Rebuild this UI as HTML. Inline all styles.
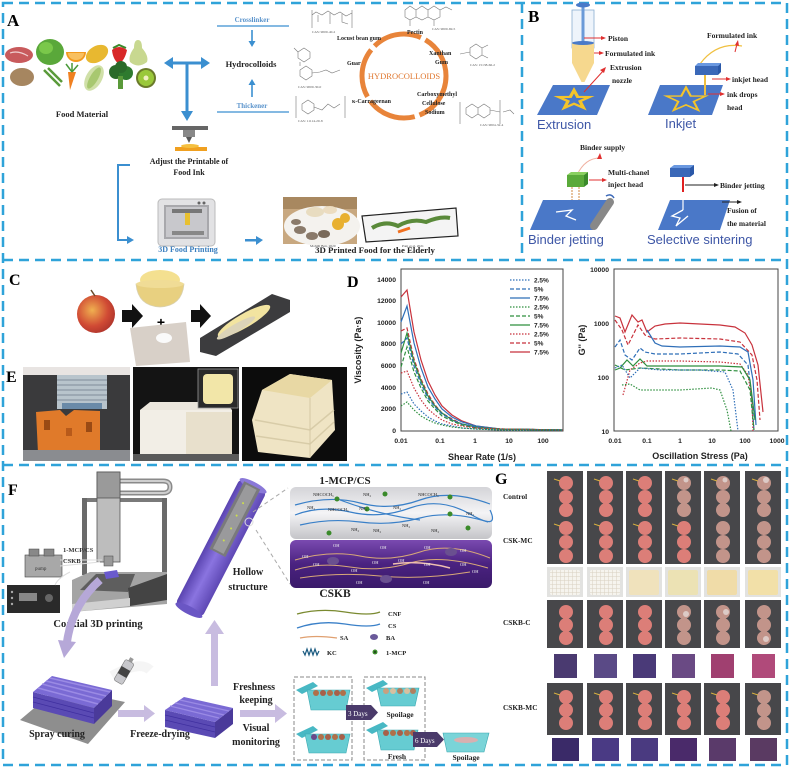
<!DOCTYPE html>
<html><head><meta charset="utf-8"><style>
html,body{margin:0;padding:0;background:#fff;}
svg{display:block;}
.s{font-family:"Liberation Serif",serif;font-weight:bold;}
.n{font-family:"Liberation Serif",serif;}
.a{font-family:"Liberation Sans",sans-serif;font-weight:bold;}
.b{font-family:"Liberation Sans",sans-serif;}
</style></head><body>
<svg width="791" height="768" viewBox="0 0 791 768" xmlns="http://www.w3.org/2000/svg">
<defs>
<linearGradient id="gl" x1="0" y1="0" x2="0" y2="1"><stop offset="0" stop-color="#d4d4d8"/><stop offset="0.5" stop-color="#f4f4f6"/><stop offset="1" stop-color="#c4c4c8"/></linearGradient>
<linearGradient id="pl" x1="0" y1="0" x2="0" y2="1"><stop offset="0" stop-color="#7a4ab0"/><stop offset="0.5" stop-color="#4a2280"/><stop offset="1" stop-color="#3a1a6a"/></linearGradient>
<linearGradient id="cy" x1="0" y1="0" x2="1" y2="0"><stop offset="0" stop-color="#5a44b0"/><stop offset="0.45" stop-color="#8a74e0"/><stop offset="1" stop-color="#5e48b4"/></linearGradient>
<radialGradient id="ap" cx="0.4" cy="0.4" r="0.7"><stop offset="0" stop-color="#f0b050"/><stop offset="0.6" stop-color="#d04a34"/><stop offset="1" stop-color="#a8302a"/></radialGradient>
<path id="star" d="M0,-18 L4.1,-5.7 L17.1,-5.6 L6.7,2.2 L10.6,14.6 L0,7 L-10.6,14.6 L-6.7,2.2 L-17.1,-5.6 L-4.1,-5.7 Z"/>
<pattern id="grd" width="4" height="4" patternUnits="userSpaceOnUse"><rect width="4" height="4" fill="#f6f4ee"/><path d="M0,0 H4 M0,0 V4" stroke="#d8d0c0" stroke-width="1"/></pattern>
</defs>

<!-- dashed borders -->
<g fill="none" stroke="#2fa3d9" stroke-width="2.5" stroke-dasharray="10,6">
<path d="M3,3 H787 V765 H3 Z"/>
<path d="M3,260 H787"/>
<path d="M3,465 H787"/>
<path d="M522,3 V260"/>
</g>

<!-- ================= PANEL A ================= -->
<text x="7" y="26" class="s" font-size="17">A</text>
<ellipse cx="19" cy="55" rx="14" ry="8" fill="#c85a5c"/>
<path d="M10,53 Q18,50 28,56" stroke="#f0d0d0" stroke-width="1.2" fill="none"/>
<ellipse cx="50" cy="52" rx="14" ry="13" fill="#5aa83a"/>
<ellipse cx="46" cy="48" rx="7" ry="6" fill="#7ac84a"/>
<path d="M66,52 A10,10 0 0 0 86,52 Z" fill="#f29a1e"/>
<path d="M68,53 A8,7 0 0 0 84,53 Z" fill="#f8c060"/>
<ellipse cx="97" cy="54" rx="12" ry="8" fill="#e8b830" transform="rotate(-30 97 54)"/>
<path d="M112,50 Q119,44 127,50 Q125,60 119,64 Q113,60 112,50Z" fill="#d82828"/>
<path d="M113,48 L119,45 L126,48" stroke="#3a8a2a" stroke-width="2" fill="none"/>
<path d="M138,40 Q142,40 142,48 Q149,56 147,62 Q138,69 130,62 Q128,56 134,48 Q134,40 138,40Z" fill="#c8d890"/>
<ellipse cx="22" cy="77" rx="12" ry="9" fill="#a68660"/>
<path d="M44,70 Q52,78 60,86 M48,68 Q56,76 62,82" stroke="#5a9a3a" stroke-width="2.5" fill="none"/>
<path d="M68,72 L76,72 L70,90 Z" fill="#f08020"/>
<path d="M72,72 L66,64 M72,72 L78,65 M72,72 L72,63" stroke="#4a9a3a" stroke-width="1.5"/>
<ellipse cx="94" cy="78" rx="8" ry="14" fill="#d0e0a8" transform="rotate(30 94 78)"/>
<ellipse cx="94" cy="78" rx="4" ry="12" fill="#a8c870" transform="rotate(30 94 78)"/>
<circle cx="116" cy="72" r="7" fill="#2a6a2a"/><circle cx="126" cy="73" r="7" fill="#2e7a2e"/><circle cx="121" cy="67" r="6" fill="#2a6a2a"/>
<rect x="118" y="76" width="5" height="13" fill="#5a9a3a"/>
<circle cx="146" cy="78" r="10" fill="#6a7a2a"/><circle cx="146" cy="78" r="8" fill="#9ac83a"/><circle cx="146" cy="78" r="2.5" fill="#f0f0c0"/>
<text x="82" y="117" class="s" font-size="8.5" text-anchor="middle" fill="#222">Food Material</text>

<g fill="#3b8fd0" stroke="none">
<rect x="170" y="61.5" width="34" height="3"/>
<polygon points="164,63 173,57 173,69"/>
<polygon points="210,63 201,57 201,69"/>
<rect x="185.5" y="63" width="3" height="50"/>
<polygon points="187,121 181,111 193,111"/>
</g>
<line x1="217" y1="26" x2="289" y2="26" stroke="#3b8fd0" stroke-width="1.3"/>
<line x1="217" y1="112" x2="289" y2="112" stroke="#3b8fd0" stroke-width="1.3"/>
<text x="252" y="22" class="s" font-size="7" text-anchor="middle" fill="#5b94cc">Crosslinker</text>
<text x="252" y="108" class="s" font-size="7" text-anchor="middle" fill="#5b94cc">Thickener</text>
<line x1="252" y1="30" x2="252" y2="42" stroke="#3b8fd0" stroke-width="1.6"/>
<polygon points="252,47 248.5,41 255.5,41" fill="#3b8fd0"/>
<line x1="252" y1="97" x2="252" y2="85" stroke="#3b8fd0" stroke-width="1.6"/>
<polygon points="252,79 248.5,85 255.5,85" fill="#3b8fd0"/>
<text x="251" y="67" class="s" font-size="8.5" text-anchor="middle" fill="#222">Hydrocolloids</text>

<circle cx="404" cy="76" r="42" fill="none" stroke="#e8843a" stroke-width="5" stroke-dasharray="50,5"/>
<text x="404" y="79" class="n" font-size="8.5" text-anchor="middle" fill="#e07830">HYDROCOLLOIDS</text>
<g class="s" font-size="6" fill="#222">
<text x="337" y="40">Locust bean gum</text>
<text x="407" y="34">Pectin</text>
<text x="429" y="55">Xanthan</text>
<text x="435" y="64">Gum</text>
<text x="347" y="65">Guar</text>
<text x="352" y="103">κ-Carrageenan</text>
<text x="417" y="96">Carboxymethyl</text>
<text x="422" y="105">Cellulose</text>
<text x="425" y="114">Sodium</text>
</g>
<g fill="none" stroke="#777" stroke-width="0.6">
<path d="M312,15 L316,12 L322,15 L328,11 L334,15 L340,12 L346,16 L352,13 M312,10 V28 M352,10 V28 M318,15 V22 M330,13 V24 M342,14 V22 L348,24"/>
<path d="M405,10 L410,6 L416,10 L416,17 L410,20 L405,17 Z M416,10 L422,6 L428,10 L428,17 L422,20 L416,17 M428,10 L434,6 L440,10 L440,17 L434,20 L428,17 M440,10 L446,7 L452,10 M410,20 V26 M434,20 V26"/>
<path d="M470,48 L476,44 L482,48 L482,55 L476,59 L470,55 Z M460,54 L470,52 M482,48 L488,45 M482,55 L488,58"/>
<path d="M298,52 L304,48 L310,52 L310,58 L304,62 L298,58 Z M300,70 L306,66 L312,70 L312,76 L306,80 L300,76 Z M312,73 L320,72 L326,70 L332,73 L340,70 M300,62 V66 M294,48 L298,52"/>
<path d="M296,96 V118 M345,96 V118 M302,104 L308,100 L314,104 L314,110 L308,114 L302,110 Z M314,107 L322,110 L328,104 L334,108 L340,104"/>
<path d="M460,102 V124 M500,100 V124 M466,108 L472,104 L478,108 L478,114 L472,118 L466,114 Z M478,108 L484,104 L490,108 L490,114 L484,118 L478,114 M490,110 L500,112 M503,112 L510,110 L514,114"/>
</g>
<g class="n" font-size="3.5" fill="#555">
<text x="312" y="33">CAS: 9000-40-2</text><text x="432" y="30">CAS: 9000-69-5</text><text x="470" y="66">CAS: 15138-66-2</text><text x="298" y="88">CAS: 9000-30-0</text><text x="298" y="122">CAS: 11114-20-8</text><text x="480" y="126">CAS: 9004-32-4</text>
</g>

<rect x="172" y="126" width="36" height="4" fill="#666"/>
<rect x="183" y="130" width="12" height="7" fill="#888"/>
<polygon points="186,137 192,137 189,143" fill="#555"/>
<rect x="175" y="147" width="32" height="4" fill="#f0a020"/>
<ellipse cx="190" cy="146" rx="9" ry="2" fill="#f5c040"/>
<text x="189" y="164" class="s" font-size="8" text-anchor="middle" fill="#222">Adjust the Printable of</text>
<text x="189" y="175" class="s" font-size="8" text-anchor="middle" fill="#222">Food Ink</text>
<path d="M130,165 H118 V240 H128" fill="none" stroke="#3b8fd0" stroke-width="2"/>
<polygon points="134,240 127,236 127,244" fill="#3b8fd0"/>
<rect x="158" y="199" width="57" height="47" rx="4" fill="#e2e2e4" stroke="#bbb"/>
<rect x="164" y="205" width="45" height="34" fill="#a8a8ac"/>
<rect x="166" y="207" width="41" height="30" fill="#c8c8cc"/>
<rect x="172" y="209" width="30" height="4" fill="#777"/>
<rect x="185" y="213" width="5" height="12" fill="#e8c030"/>
<rect x="172" y="231" width="32" height="4" fill="#888"/>
<circle cx="199" cy="203" r="1.5" fill="#666"/><circle cx="204" cy="203" r="1.5" fill="#666"/>
<rect x="245" y="239" width="13" height="2.5" fill="#3b8fd0"/>
<polygon points="263,240 256,236 256,245" fill="#3b8fd0"/>
<text x="188" y="252" class="s" font-size="8" text-anchor="middle" fill="#3b7fbf">3D Food Printing</text>
<rect x="283" y="197" width="74" height="47" fill="#c8a880"/>
<rect x="283" y="197" width="74" height="12" fill="#a88860"/>
<ellipse cx="322" cy="226" rx="38" ry="20" fill="#f4f2ee"/>
<ellipse cx="315" cy="212" rx="9" ry="5" fill="#e8dcc0"/>
<ellipse cx="330" cy="210" rx="7" ry="4" fill="#ecdcc0"/>
<circle cx="338" cy="224" r="6" fill="#e8b030"/><circle cx="345" cy="218" r="5" fill="#e8b030"/>
<ellipse cx="300" cy="230" rx="6" ry="4" fill="#8a7a6a"/><ellipse cx="312" cy="236" rx="6" ry="4" fill="#8a7a6a"/><ellipse cx="324" cy="234" rx="6" ry="4" fill="#7a6a5a"/><ellipse cx="296" cy="222" rx="5" ry="3" fill="#8a7a6a"/>
<polygon points="362,216 456,208 458,236 366,242" fill="#f4f4f4" stroke="#222" stroke-width="1.2"/>
<path d="M372,228 Q385,220 398,226 Q412,218 426,222 Q440,216 450,218" stroke="#5a8a3a" stroke-width="4" fill="none"/>
<path d="M398,232 L410,228" stroke="#f07020" stroke-width="3"/>
<text x="310" y="247" class="n" font-size="3.5" fill="#444">Mohith Ben, 2020</text>
<text x="402" y="247" class="n" font-size="3.5" fill="#444">Pant et al. 2021</text>
<text x="375" y="253" class="s" font-size="8.8" text-anchor="middle" fill="#222">3D Printed Food for the Elderly</text>

<!-- ================= PANEL B ================= -->
<text x="528" y="22" class="s" font-size="17">B</text>
<rect x="572" y="10" width="22" height="38" fill="#eef4fb" stroke="#8aaed0" stroke-width="0.8"/>
<rect x="581.5" y="4" width="3" height="40" fill="#6a9ad8"/>
<ellipse cx="583" cy="5" rx="7" ry="2.5" fill="#4a7ac8"/>
<rect x="572" y="43" width="22" height="20" fill="#f6d88e"/>
<ellipse cx="583" cy="43" rx="11" ry="2" fill="#4a7ac8"/>
<polygon points="572,63 594,63 584.5,82 581.5,82" fill="#f6d88e"/>
<polygon points="553,85 610,85 597,115 537,115" fill="#4a78c8"/>
<use href="#star" transform="translate(574,100) scale(1.2,0.72)" fill="#f5c42a"/>
<use href="#star" transform="translate(574,100) scale(0.6,0.36)" fill="#4a78c8"/>
<g stroke="#e03030" stroke-width="1" fill="#e03030">
<line x1="584" y1="38" x2="603" y2="38"/><polygon points="606,38 601,36 601,40" stroke="none"/>
<line x1="594" y1="53" x2="601" y2="53"/><polygon points="604,53 599,51 599,55" stroke="none"/>
<line x1="584" y1="92" x2="604" y2="70"/><polygon points="606,67 600,70 604,73" stroke="none"/>
</g>
<g class="s" font-size="7.5" fill="#222">
<text x="608" y="41">Piston</text>
<text x="605" y="56">Formulated ink</text>
<text x="610" y="70">Extrusion</text>
<text x="612" y="83">nozzle</text>
</g>
<text x="537" y="129" class="b" font-size="13" fill="#3d56a6">Extrusion</text>
<polygon points="660,85 723,85 712,115 648,115" fill="#4a78c8"/>
<use href="#star" transform="translate(686,100) scale(1.15,0.7)" fill="none" stroke="#f5c42a" stroke-width="2"/>
<path d="M700,64 Q716,42 742,46" stroke="#f0c040" stroke-width="1.2" fill="none"/>
<polygon points="695,66 718,66 721,63 698,63" fill="#6a98e0"/>
<rect x="695" y="66" width="23" height="9" fill="#3a68b8"/>
<polygon points="718,66 721,63 721,72 718,75" fill="#2a58a8"/>
<line x1="705" y1="75" x2="705" y2="95" stroke="#f0c040" stroke-width="2"/>
<g stroke="#e03030" stroke-width="1" fill="#e03030">
<line x1="735" y1="52" x2="737" y2="44"/><polygon points="738,40 735,45 739,46" stroke="none"/>
<line x1="712" y1="79" x2="728" y2="79"/><polygon points="731,79 726,77 726,81" stroke="none"/>
<line x1="708" y1="94" x2="722" y2="94"/><polygon points="725,94 720,92 720,96" stroke="none"/>
</g>
<g class="s" font-size="7.5" fill="#222">
<text x="707" y="38">Formulated ink</text>
<text x="732" y="82">inkjet head</text>
<text x="727" y="97">ink drops</text>
<text x="727" y="110">head</text>
</g>
<text x="665" y="128" class="b" font-size="13" fill="#3d56a6">Inkjet</text>
<path d="M577,175 Q585,158 600,158" stroke="#f0b0a0" stroke-width="1" fill="none"/>
<polygon points="600,153 597,159 602,159" fill="#e03030"/>
<text x="580" y="150" class="s" font-size="7.5" fill="#222">Binder supply</text>
<polygon points="567,175 584,175 588,172 571,172" fill="#8ad060"/>
<rect x="567" y="175" width="17" height="12" fill="#5aaa3a"/>
<polygon points="584,175 588,172 588,184 584,187" fill="#3a8a2a"/>
<line x1="572" y1="187" x2="572" y2="208" stroke="#e0b080" stroke-width="1.5" stroke-dasharray="2,1"/>
<line x1="579" y1="187" x2="579" y2="208" stroke="#e0b080" stroke-width="1.5" stroke-dasharray="2,1"/>
<line x1="589" y1="180" x2="603" y2="180" stroke="#e03030"/><polygon points="607,180 602,178 602,182" fill="#e03030"/>
<g class="s" font-size="7.5" fill="#222">
<text x="608" y="175">Multi-chanel</text>
<text x="608" y="187">inject head</text>
</g>
<polygon points="543,200 607,200 593,230 530,230" fill="#4a78c8"/>
<path d="M556,212 L572,210 L566,216 L576,220" stroke="#fff" stroke-width="1.3" fill="none"/>
<line x1="594" y1="226" x2="610" y2="202" stroke="#888" stroke-width="8" stroke-linecap="round"/>
<path d="M606,196 Q611,193 614,198" stroke="#3a68b8" stroke-width="1.5" fill="none"/>
<text x="528" y="244" class="b" font-size="13" fill="#3d56a6">Binder jetting</text>
<polygon points="670,168 690,168 694,165 674,165" fill="#6a98e0"/>
<rect x="670" y="168" width="20" height="9" fill="#3a68b8"/>
<polygon points="690,168 694,165 694,174 690,177" fill="#2a58a8"/>
<polygon points="670,200 730,200 720,230 658,230" fill="#4a78c8"/>
<line x1="683" y1="177" x2="683" y2="192" stroke="#e02020" stroke-width="2"/>
<line x1="683" y1="192" x2="683" y2="210" stroke="#fff" stroke-width="1.2"/>
<path d="M683,210 L672,216 L680,218 L676,226 L688,216" stroke="#fff" stroke-width="1.3" fill="none"/>
<line x1="685" y1="185" x2="715" y2="185" stroke="#222"/><polygon points="719,185 714,183 714,187" fill="#222"/>
<line x1="722" y1="202" x2="738" y2="202" stroke="#222"/><polygon points="742,202 737,200 737,204" fill="#222"/>
<g class="s" font-size="7.5" fill="#222">
<text x="720" y="188">Binder jetting</text>
<text x="727" y="213">Fusion of</text>
<text x="727" y="226">the material</text>
</g>
<text x="647" y="244" class="b" font-size="13" fill="#3d56a6">Selective sintering</text>

<!-- ================= PANEL C ================= -->
<text x="9" y="285" class="s" font-size="16">C</text>
<circle cx="96" cy="314" r="19" fill="url(#ap)"/>
<path d="M95,296 L91,290" stroke="#6a4a2a" stroke-width="1.5"/>
<polygon points="122,310 132,310 132,304 143,316 132,328 132,322 122,322" fill="#111"/>
<ellipse cx="160" cy="280" rx="20" ry="10" fill="#f4e090"/>
<path d="M136,284 Q138,306 160,307 Q182,306 184,284 Z" fill="#e8d080" stroke="#d8d0b0" stroke-width="0.8"/>
<ellipse cx="160" cy="284" rx="24" ry="4" fill="#f0dc96"/>
<text x="161" y="327" class="a" font-size="14" text-anchor="middle">+</text>
<polygon points="130,328 186,322 190,362 136,366" fill="#d8d0c8"/>
<ellipse cx="164" cy="338" rx="8" ry="5" fill="#fafafa"/>
<polygon points="191,310 200,310 200,304 211,316 200,328 200,322 191,322" fill="#111"/>
<polygon points="200,338 272,294 290,300 290,312 216,356 200,352" fill="#3c3c3e"/>
<ellipse cx="244" cy="321" rx="30" ry="7" fill="#f2e4a0" transform="rotate(-30 244 321)"/>
<ellipse cx="236" cy="328" rx="22" ry="4" fill="#dcd4b8" transform="rotate(-30 236 328)"/>

<!-- ================= PANEL E ================= -->
<text x="6" y="382" class="s" font-size="16">E</text>
<rect x="23" y="367" width="107" height="94" fill="#3a3a3c"/>
<rect x="23" y="367" width="107" height="8" fill="#e8e4e2"/>
<rect x="57" y="375" width="50" height="34" fill="#b8c4cc"/>
<g stroke="#8a98a4" stroke-width="1.2"><line x1="57" y1="380" x2="107" y2="380"/><line x1="57" y1="385" x2="107" y2="385"/><line x1="57" y1="390" x2="107" y2="390"/><line x1="57" y1="395" x2="107" y2="395"/><line x1="57" y1="400" x2="107" y2="400"/></g>
<rect x="62" y="403" width="40" height="6" fill="#6a8aa8"/>
<path d="M36,412 L60,410 L66,416 L74,410 L100,411 L100,452 L38,453 Z" fill="#e07a2a"/>
<rect x="44" y="420" width="6" height="10" fill="#9a4a14"/><rect x="86" y="422" width="6" height="10" fill="#9a4a14"/><rect x="66" y="428" width="6" height="8" fill="#b85a1a"/>
<rect x="23" y="450" width="107" height="11" fill="#8a8c90"/>
<rect x="133" y="367" width="106" height="94" fill="#141414"/>
<path d="M140,410 L150,402 L225,402 L232,410 L232,455 L140,456 Z" fill="#ebe6dc"/>
<rect x="140" y="410" width="92" height="45" fill="#f2eee6"/>
<rect x="186" y="412" width="46" height="43" fill="#e8e0cc"/>
<rect x="133" y="454" width="106" height="7" fill="#5a5a5a"/>
<rect x="198" y="369" width="40" height="39" fill="#2a2a2a" stroke="#999" stroke-width="0.8"/>
<rect x="203" y="374" width="30" height="30" rx="4" fill="#f2e6a8"/>
<rect x="242" y="367" width="105" height="94" fill="#0c0c0c"/>
<path d="M262,390 L290,374 L332,380 L335,430 L310,458 L258,452 L252,420 Z" fill="#efe4c4"/>
<path d="M262,390 L290,374 L332,380 L310,398 Z" fill="#e8d8a4"/>
<path d="M255,420 L310,430 L334,410 M256,436 L310,444 L334,422" stroke="#d8cca8" stroke-width="1.5" fill="none"/>
<path d="M310,398 L310,458" stroke="#d4c8a4" stroke-width="1"/>

<!-- ================= PANEL D ================= -->
<text x="347" y="287" class="s" font-size="16">D</text>
<rect x="401" y="269" width="162" height="162" fill="none" stroke="#444" stroke-width="1"/>
<g class="a" font-size="6.8" fill="#222" text-anchor="end">
<text x="396" y="282">14000</text><text x="396" y="303">12000</text><text x="396" y="325">10000</text><text x="396" y="346">8000</text><text x="396" y="368">6000</text><text x="396" y="390">4000</text><text x="396" y="411">2000</text><text x="396" y="433">0</text>
</g>
<g class="a" font-size="6.8" fill="#222" text-anchor="middle">
<text x="401" y="443">0.01</text><text x="440" y="443">0.1</text><text x="475" y="443">1</text><text x="509" y="443">10</text><text x="543" y="443">100</text>
</g>
<text x="482" y="460" class="a" font-size="9" text-anchor="middle" fill="#222">Shear Rate (1/s)</text>
<text transform="translate(361,350) rotate(-90)" class="a" font-size="9" text-anchor="middle" fill="#222">Viscosity (Pa·s)</text>
<g fill="none" stroke-width="1.2">
<polyline stroke="#c8323c" points="401,297 407,290 414,332 421,360 428,381 435,395 442,406 452,415 462,421 476,426 500,429 563,430"/>
<polyline stroke="#2f6fb8" points="401,322 407,306 414,343 421,368 428,387 435,399 442,409 452,417 462,422 476,426 500,429 563,430"/>
<polyline stroke="#c8323c" stroke-dasharray="4,2" points="401,331 407,328 414,359 421,379 428,394 435,405 442,413 452,419 462,424 476,427 500,429 563,430"/>
<polyline stroke="#2f8f3f" points="401,353 407,333 414,362 421,381 428,396 435,406 442,413 452,420 462,424 476,427 500,429 563,430"/>
<polyline stroke="#2f6fb8" stroke-dasharray="4,2" points="401,344 407,338 414,366 421,384 428,398 435,407 442,414 452,420 462,424 476,427 500,429 563,430"/>
<polyline stroke="#2f8f3f" stroke-dasharray="4,2" points="401,367 407,347 414,372 421,388 428,401 435,409 442,416 452,421 462,425 476,428 500,429 563,430"/>
<polyline stroke="#c8323c" stroke-dasharray="1.5,1.5" points="401,373 407,371 414,388 421,400 428,409 435,415 442,420 452,424 462,426 476,428 500,429 563,430"/>
<polyline stroke="#2f6fb8" stroke-dasharray="1.5,1.5" points="401,394 407,392 414,404 421,411 428,417 435,421 442,424 452,426 462,428 476,429 500,430 563,430"/>
<polyline stroke="#2f8f3f" stroke-dasharray="1.5,1.5" points="401,406 407,402 414,410 421,416 428,420 435,423 442,425 452,427 462,428 476,429 500,430 563,430"/>
</g>
<g stroke-width="1.2">
<line x1="510" y1="280" x2="530" y2="280" stroke="#2f6fb8" stroke-dasharray="1.5,1.5"/>
<line x1="510" y1="289" x2="530" y2="289" stroke="#2f6fb8" stroke-dasharray="4,2"/>
<line x1="510" y1="298" x2="530" y2="298" stroke="#2f6fb8"/>
<line x1="510" y1="307" x2="530" y2="307" stroke="#2f8f3f" stroke-dasharray="1.5,1.5"/>
<line x1="510" y1="316" x2="530" y2="316" stroke="#2f8f3f" stroke-dasharray="4,2"/>
<line x1="510" y1="325" x2="530" y2="325" stroke="#2f8f3f"/>
<line x1="510" y1="334" x2="530" y2="334" stroke="#c8323c" stroke-dasharray="1.5,1.5"/>
<line x1="510" y1="343" x2="530" y2="343" stroke="#c8323c" stroke-dasharray="4,2"/>
<line x1="510" y1="352" x2="530" y2="352" stroke="#c8323c"/>
</g>
<g class="a" font-size="6.5" fill="#222">
<text x="534" y="282.5">2.5%</text><text x="534" y="291.5">5%</text><text x="534" y="300.5">7.5%</text>
<text x="534" y="309.5">2.5%</text><text x="534" y="318.5">5%</text><text x="534" y="327.5">7.5%</text>
<text x="534" y="336.5">2.5%</text><text x="534" y="345.5">5%</text><text x="534" y="354.5">7.5%</text>
</g>
<rect x="614" y="269" width="164" height="162" fill="none" stroke="#444" stroke-width="1"/>
<g class="a" font-size="6.8" fill="#222" text-anchor="end">
<text x="609" y="272">10000</text><text x="609" y="326">1000</text><text x="609" y="380">100</text><text x="609" y="434">10</text>
</g>
<g class="a" font-size="6.8" fill="#222" text-anchor="middle">
<text x="615" y="443">0.01</text><text x="647" y="443">0.1</text><text x="680" y="443">1</text><text x="712" y="443">10</text><text x="745" y="443">100</text><text x="777" y="443">1000</text>
</g>
<text x="700" y="459" class="a" font-size="9" text-anchor="middle" fill="#222">Oscillation Stress (Pa)</text>
<text transform="translate(585,340) rotate(-90)" class="a" font-size="9" text-anchor="middle" fill="#222">G'' (Pa)</text>
<g fill="none" stroke-width="1.2">
<polyline stroke="#c8323c" points="615,316 620,318 625,332 632,315 638,322 642,320 647,332 655,326 665,324 680,323 700,324 720,325 735,327 745,333 752,345 758,365 763,412"/>
<polyline stroke="#c8323c" stroke-dasharray="4,2" points="615,320 622,330 628,345 638,325 645,335 655,339 680,338 720,339 740,342 752,355 757,380 760,420"/>
<polyline stroke="#2f6fb8" points="647,330 655,343 662,346 680,347 720,346 740,347 748,352 753,380 756,425"/>
<polyline stroke="#2f6fb8" stroke-dasharray="4,2" points="615,347 620,340 625,355 632,360 640,348 645,352 655,354 680,354 720,352 738,354 748,365 752,400 754,431"/>
<polyline stroke="#c8323c" stroke-dasharray="1.5,1.5" points="623,395 630,370 640,363 647,361 680,361 720,362 740,364 748,375 752,400 753,431"/>
<polyline stroke="#2f8f3f" points="615,370 620,368 627,360 633,366 640,359 647,366 680,366 720,366 742,367 750,380 755,420"/>
<polyline stroke="#2f8f3f" stroke-dasharray="4,2" points="615,365 625,370 640,368 680,370 720,370 740,371 750,390 754,430"/>
<polyline stroke="#2f6fb8" stroke-dasharray="1.5,1.5" points="615,368 622,365 630,378 640,368 660,370 700,370 725,372 733,390 738,431"/>
<polyline stroke="#2f8f3f" stroke-dasharray="1.5,1.5" points="622,385 630,384 640,390 680,390 712,388 720,390 727,410 731,431"/>
</g>

<!-- ================= PANEL F ================= -->
<text x="8" y="495" class="s" font-size="16">F</text>
<rect x="82" y="498" width="85" height="4" fill="#7a7a7a"/>
<rect x="82" y="498" width="5" height="77" fill="#6a6a6a"/>
<rect x="162" y="498" width="5" height="77" fill="#6a6a6a"/>
<path d="M120,481 H163 Q170,481 170,487 Q170,493 163,493 H120" fill="none" stroke="#8a8a8a" stroke-width="5"/>
<path d="M120,481 H163 Q170,481 170,487 Q170,493 163,493 H120" fill="none" stroke="#cfcfcf" stroke-width="2"/>
<rect x="97" y="472" width="23" height="90" fill="#bdbdbd" stroke="#555" stroke-width="0.8"/>
<rect x="97" y="472" width="23" height="26" fill="#9a9a9a" stroke="#555" stroke-width="0.8"/>
<polygon points="72,580 90,572 167,572 167,604 72,612" fill="#a4a4a4"/>
<polygon points="96,574 135,574 128,592 80,590" fill="#5e5e5e"/>
<polygon points="128,588 167,574 167,600 130,606" fill="#444"/>
<polygon points="72,604 130,598 130,606 72,612" fill="#d0d0d0"/>
<polygon points="104,572 117,570 119,577 106,579" fill="#6a5acd"/>
<rect x="104" y="556" width="9" height="10" fill="#999" stroke="#444" stroke-width="0.5"/>
<rect x="25" y="555" width="37" height="22" fill="#a8a8a8" stroke="#444" stroke-width="0.6"/>
<rect x="29" y="549" width="10" height="7" fill="#888" stroke="#444" stroke-width="0.5"/><rect x="44" y="549" width="10" height="7" fill="#888" stroke="#444" stroke-width="0.5"/>
<text x="35" y="570" class="n" font-size="5" fill="#333">pump</text>
<rect x="7" y="585" width="53" height="28" fill="#2a2a2a"/>
<rect x="19" y="593" width="18" height="8" fill="#888"/>
<circle cx="49" cy="598" r="4" fill="#666"/>
<circle cx="12" cy="592" r="1.2" fill="#aaa"/><circle cx="12" cy="598" r="1.2" fill="#aaa"/><circle cx="12" cy="604" r="1.2" fill="#aaa"/>
<path d="M60,560 L102,560 M60,566 L100,562 M55,585 Q58,578 70,572" stroke="#ddd" stroke-width="1" fill="none"/>
<text x="63" y="552" class="s" font-size="6.5" fill="#333">1-MCP/CS</text>
<text x="63" y="563" class="s" font-size="6.5" fill="#333">CSKB</text>
<text x="98" y="627" class="s" font-size="10.5" text-anchor="middle" fill="#222">Coaxial 3D printing</text>
<path d="M100,580 Q72,605 67,642" stroke="#b6a8d8" stroke-width="8" fill="none"/>
<polygon points="58,640 76,642 64,658" fill="#b6a8d8"/>
<path d="M112,676 Q140,660 150,670" stroke="#eee" stroke-width="10" fill="none" opacity="0.6"/>
<polygon points="20,720 88,744 125,702 58,688" fill="#8e8e8e"/>
<polygon points="33,692 94,708 94,724 33,708" fill="#5a4ab4"/>
<polygon points="94,708 112,690 112,706 94,724" fill="#4a3a9a"/>
<polygon points="33,692 94,708 112,690 52,676" fill="#7a6ad4"/>
<g stroke="#9a8ae4" stroke-width="1.5"><line x1="38" y1="688" x2="98" y2="704"/><line x1="42" y1="684" x2="102" y2="700"/><line x1="46" y1="681" x2="106" y2="696"/><line x1="50" y1="678" x2="110" y2="692"/></g>
<g stroke="#4030a0" stroke-width="0.8"><line x1="33" y1="697" x2="94" y2="713"/><line x1="33" y1="702" x2="94" y2="718"/></g>
<g transform="translate(124,672) rotate(30)"><rect x="-5" y="-12" width="10" height="24" rx="2" fill="#c8c8cc" stroke="#777" stroke-width="0.6"/><rect x="-5" y="-4" width="10" height="8" fill="#444"/><rect x="-2" y="-16" width="4" height="4" fill="#999"/></g>
<text x="57" y="737" class="s" font-size="10" text-anchor="middle" fill="#222">Spray curing</text>
<rect x="118" y="710" width="28" height="7" fill="#c8bce0"/>
<polygon points="155,713.5 144,705 144,722" fill="#c8bce0"/>
<text x="160" y="737" class="s" font-size="10" text-anchor="middle" fill="#222">Freeze-drying</text>
<polygon points="165,710 215,722 215,738 165,727" fill="#5a4ab4"/>
<polygon points="215,722 233,708 233,724 215,738" fill="#4a3a9a"/>
<polygon points="165,710 215,722 233,708 184,697" fill="#7a6ad4"/>
<g stroke="#9a8ae4" stroke-width="1.3"><line x1="170" y1="706" x2="219" y2="718"/><line x1="175" y1="703" x2="224" y2="715"/><line x1="180" y1="700" x2="229" y2="711"/></g>
<g stroke="#4030a0" stroke-width="0.8"><line x1="165" y1="715" x2="215" y2="727"/><line x1="165" y1="720" x2="215" y2="732"/></g>
<rect x="211" y="632" width="7" height="54" fill="#c8bce0"/>
<polygon points="214.5,620 205,634 224,634" fill="#c8bce0"/>
<g transform="translate(221,548) rotate(27.3)">
<rect x="-15" y="-70" width="30" height="140" rx="4" fill="url(#cy)"/>
<ellipse cx="0" cy="70" rx="15" ry="4" fill="#6a56c4"/>
<ellipse cx="0" cy="-70" rx="15" ry="4" fill="#8a78d8"/>
<rect x="-10" y="-70" width="18" height="76" fill="#7a7a7c"/>
<rect x="-7" y="-68" width="12" height="72" fill="#9a9a9c"/>
<circle cx="-1" cy="-50" r="1" fill="#cde04a"/><circle cx="-1" cy="-36" r="1" fill="#cde04a"/><circle cx="0" cy="-22" r="1" fill="#cde04a"/><circle cx="-1" cy="-8" r="1" fill="#cde04a"/>
</g>
<g stroke="#aaa" stroke-width="1" stroke-dasharray="4,3" fill="none">
<line x1="253" y1="512" x2="288" y2="488"/>
<line x1="256" y1="530" x2="290" y2="584"/>
</g>
<circle cx="249" cy="522" r="4" fill="none" stroke="#ddd" stroke-width="1"/>
<text x="248" y="575" class="s" font-size="10" text-anchor="middle" fill="#222">Hollow</text>
<text x="248" y="590" class="s" font-size="10" text-anchor="middle" fill="#222">structure</text>
<text x="345" y="484" class="s" font-size="11" text-anchor="middle" fill="#222">1-MCP/CS</text>
<rect x="290" y="487" width="202" height="52" rx="6" fill="url(#gl)"/>
<rect x="290" y="540" width="202" height="48" rx="6" fill="url(#pl)"/>
<g fill="none" stroke="#3a80c8" stroke-width="1.2">
<path d="M295,505 Q330,495 360,503 T420,500 T490,504"/>
<path d="M295,515 Q320,505 350,512 T410,508 T470,514 T490,510"/>
<path d="M300,525 Q330,518 360,522 T420,518 T488,522"/>
<path d="M340,500 Q380,515 420,520"/>
</g>
<g fill="#3a8a2a"><circle cx="337" cy="499" r="2.5"/><circle cx="385" cy="494" r="2.5"/><circle cx="450" cy="497" r="2.5"/><circle cx="450" cy="514" r="2.5"/><circle cx="468" cy="528" r="2.5"/><circle cx="329" cy="533" r="2.5"/><circle cx="367" cy="509" r="2.5"/></g>
<g class="n" font-size="4.5" fill="#222">
<text x="313" y="496">NHCOCH₃</text><text x="363" y="496">NH₂</text><text x="418" y="496">NHCOCH₃</text>
<text x="307" y="509">NH₂</text><text x="328" y="511">NHCOCH₃</text><text x="359" y="510">NH₂</text><text x="393" y="509">NH₂</text><text x="466" y="515">NH₂</text>
<text x="351" y="531">NH₂</text><text x="373" y="532">NH₂</text><text x="402" y="527">NH₂</text><text x="431" y="532">NH₂</text>
</g>
<g fill="none" stroke="#d8a878" stroke-width="1">
<path d="M295,560 Q330,550 360,556 T420,552 T490,558"/>
<path d="M295,570 Q320,562 350,567 T410,563 T488,568"/>
<path d="M300,578 Q340,572 380,576 T470,572"/>
</g>
<path d="M393,564 Q420,560 450,568" stroke="#f0c0b0" stroke-width="1.5" fill="none"/>
<ellipse cx="333" cy="561" rx="6" ry="4" fill="#6a5090"/><ellipse cx="386" cy="579" rx="6" ry="4" fill="#6a5090"/><ellipse cx="451" cy="552" rx="6" ry="4" fill="#6a5090"/>
<g class="n" font-size="4.5" fill="#eee">
<text x="333" y="547">OH</text><text x="380" y="549">OH</text><text x="424" y="549">OH</text><text x="460" y="552">OH</text>
<text x="302" y="558">OH</text><text x="313" y="566">OH</text><text x="372" y="564">OH</text><text x="398" y="562">OH</text><text x="424" y="566">OH</text><text x="460" y="566">OH</text><text x="472" y="573">OH</text><text x="351" y="572">OH</text>
<text x="356" y="584">OH</text><text x="423" y="584">OH</text>
</g>
<text x="335" y="597" class="s" font-size="11.5" text-anchor="middle" fill="#222">CSKB</text>
<path d="M297,614 Q320,608 345,612 T380,612" stroke="#7a8a30" stroke-width="1.3" fill="none"/>
<text x="388" y="616" class="s" font-size="6.5" fill="#222">CNF</text>
<path d="M297,628 Q320,620 345,624 T380,624" stroke="#3a80c8" stroke-width="1.3" fill="none"/>
<text x="388" y="628" class="s" font-size="6.5" fill="#222">CS</text>
<path d="M300,638 Q315,635 337,638" stroke="#e0a070" stroke-width="1.3" fill="none"/>
<text x="340" y="640" class="s" font-size="6.5" fill="#222">SA</text>
<ellipse cx="374" cy="637" rx="4" ry="3" fill="#6a5a9a"/>
<text x="386" y="640" class="s" font-size="6.5" fill="#222">BA</text>
<path d="M303,651 L305,655 L307,649 L309,655 L311,649 L313,655 L315,649 L317,655 L319,651" stroke="#1a5a80" stroke-width="1.2" fill="none"/>
<text x="327" y="655" class="s" font-size="6.5" fill="#222">KC</text>
<circle cx="375" cy="652" r="2.5" fill="#3a8a2a"/><circle cx="375" cy="652" r="1" fill="#1a3a1a"/>
<text x="386" y="655" class="s" font-size="6.5" fill="#222">1-MCP</text>
<text x="254" y="690" class="s" font-size="10" text-anchor="middle" fill="#222">Freshness</text>
<text x="256" y="703" class="s" font-size="10" text-anchor="middle" fill="#222">keeping</text>
<text x="256" y="731" class="s" font-size="10" text-anchor="middle" fill="#222">Visual</text>
<text x="256" y="745" class="s" font-size="10" text-anchor="middle" fill="#222">monitoring</text>
<rect x="240" y="710" width="36" height="7" fill="#c8bce0"/>
<polygon points="287,713.5 275,704 275,723" fill="#c8bce0"/>
<rect x="294" y="677" width="58" height="83" fill="none" stroke="#888" stroke-width="1" stroke-dasharray="4,2"/>
<rect x="364" y="677" width="61" height="83" fill="none" stroke="#888" stroke-width="1" stroke-dasharray="4,2"/>
<g>
<polygon points="296,690 313,682 318,686 302,694" fill="#48b8c4"/>
<polygon points="307,690 350,690 346,710 311,710" fill="#66ccd2" stroke="#3aa8b0" stroke-width="0.6"/>
<circle cx="316" cy="693" r="3" fill="#b0704a"/><circle cx="323" cy="693" r="3" fill="#a8604a"/><circle cx="330" cy="693" r="3" fill="#b0704a"/><circle cx="337" cy="693" r="3" fill="#a8604a"/><circle cx="343" cy="693" r="3" fill="#b0704a"/>
<polygon points="296,734 313,726 318,730 302,738" fill="#48b8c4"/>
<polygon points="305,734 350,734 346,753 309,753" fill="#66ccd2" stroke="#3aa8b0" stroke-width="0.6"/>
<circle cx="314" cy="737" r="3" fill="#6a4a8a"/><circle cx="321" cy="737" r="3" fill="#b0704a"/><circle cx="328" cy="737" r="3" fill="#a8604a"/><circle cx="335" cy="737" r="3" fill="#b0704a"/><circle cx="342" cy="737" r="3" fill="#a8604a"/>
<polygon points="366,688 383,680 388,684 372,692" fill="#48b8c4"/>
<polygon points="377,688 419,688 415,706 381,706" fill="#66ccd2" stroke="#3aa8b0" stroke-width="0.6"/>
<circle cx="386" cy="691" r="3" fill="#c8a080"/><circle cx="393" cy="691" r="3" fill="#d8c0a0"/><circle cx="400" cy="691" r="3" fill="#b08060"/><circle cx="407" cy="691" r="3" fill="#d8c0a0"/><circle cx="413" cy="691" r="3" fill="#b08060"/>
<polygon points="366,730 383,722 388,726 372,734" fill="#48b8c4"/>
<polygon points="377,730 418,730 414,750 381,750" fill="#66ccd2" stroke="#3aa8b0" stroke-width="0.6"/>
<circle cx="386" cy="733" r="3" fill="#a8604a"/><circle cx="393" cy="733" r="3" fill="#b0704a"/><circle cx="400" cy="733" r="3" fill="#a8604a"/><circle cx="407" cy="733" r="3" fill="#b0704a"/><circle cx="413" cy="733" r="3" fill="#a8604a"/>
<polygon points="443,733 489,733 484,752 447,752" fill="#7ad4d8" stroke="#3aa8b0" stroke-width="0.6"/>
<ellipse cx="466" cy="740" rx="12" ry="3" fill="#d8b0b0"/>
</g>
<polygon points="346,705 371,705 378,712.5 371,720 346,720" fill="#4a3a6a"/>
<text x="348" y="716" class="n" font-size="7" fill="#fff">3 Days</text>
<polygon points="413,732 437,732 444,739.5 437,747 413,747" fill="#4a3a6a"/>
<text x="415" y="743" class="n" font-size="7" fill="#fff">6 Days</text>
<text x="400" y="717" class="s" font-size="7.5" text-anchor="middle" fill="#222">Spoilage</text>
<text x="397" y="759" class="s" font-size="7.5" text-anchor="middle" fill="#222">Fresh</text>
<text x="466" y="760" class="s" font-size="7.5" text-anchor="middle" fill="#222">Spoilage</text>

<!-- ================= PANEL G ================= -->
<text x="495" y="484" class="s" font-size="16">G</text>
<g class="s" font-size="7.3" fill="#222">
<text x="503" y="499">Control</text>
<text x="503" y="543">CSK-MC</text>
<text x="503" y="625">CSKB-C</text>
<text x="503" y="710">CSKB-MC</text>
</g>
<g fill="#47474a">
<rect x="547" y="471" width="36" height="93"/><rect x="587" y="471" width="36" height="93"/><rect x="626" y="471" width="36" height="93"/><rect x="665" y="471" width="36" height="93"/><rect x="704" y="471" width="36" height="93"/><rect x="745" y="471" width="36" height="93"/>
<rect x="547" y="600" width="36" height="48"/><rect x="587" y="600" width="36" height="48"/><rect x="626" y="600" width="36" height="48"/><rect x="665" y="600" width="36" height="48"/><rect x="704" y="600" width="36" height="48"/><rect x="745" y="600" width="36" height="48"/>
<rect x="547" y="683" width="36" height="52"/><rect x="587" y="683" width="36" height="52"/><rect x="626" y="683" width="36" height="52"/><rect x="665" y="683" width="36" height="52"/><rect x="704" y="683" width="36" height="52"/><rect x="745" y="683" width="36" height="52"/>
</g>
<g fill="#e2e2e0">
<rect x="547" y="567" width="36" height="30"/><rect x="587" y="567" width="36" height="30"/><rect x="626" y="567" width="36" height="30"/><rect x="665" y="567" width="36" height="30"/><rect x="704" y="567" width="36" height="30"/><rect x="745" y="567" width="36" height="30"/>
</g>
<rect x="550" y="570" width="30" height="25" rx="2" fill="url(#grd)"/>
<rect x="590" y="570" width="30" height="25" rx="2" fill="url(#grd)"/>
<rect x="629" y="570" width="30" height="25" rx="2" fill="#f0e2bc"/>
<rect x="668" y="570" width="30" height="25" rx="2" fill="#ece2b4"/>
<rect x="707" y="570" width="30" height="25" rx="2" fill="#f0dca8"/>
<rect x="748" y="570" width="30" height="25" rx="2" fill="#f2e0a8"/>
<rect x="554" y="654" width="23" height="24" fill="#4a3a70"/>
<rect x="594" y="654" width="23" height="24" fill="#5a4a86"/>
<rect x="633" y="654" width="23" height="24" fill="#4a3a78"/>
<rect x="672" y="654" width="23" height="24" fill="#6a4a84"/>
<rect x="711" y="654" width="23" height="24" fill="#a04070"/>
<rect x="752" y="654" width="23" height="24" fill="#b04a7a"/>
<rect x="552" y="738" width="27" height="23" fill="#3a2a68"/>
<rect x="592" y="738" width="27" height="23" fill="#4a3a84"/>
<rect x="631" y="738" width="27" height="23" fill="#4a3a80"/>
<rect x="670" y="738" width="27" height="23" fill="#4a2a6a"/>
<rect x="709" y="738" width="27" height="23" fill="#5a3a6a"/>
<rect x="750" y="738" width="27" height="23" fill="#5a3a62"/>
<g fill="#dc7e78">
<circle cx="566" cy="483" r="7"/><circle cx="566" cy="497" r="7"/><circle cx="566" cy="510" r="7"/>
<circle cx="606" cy="483" r="7"/><circle cx="606" cy="497" r="7"/><circle cx="606" cy="510" r="7"/>
<circle cx="645" cy="483" r="7"/><circle cx="645" cy="497" r="7"/><circle cx="645" cy="510" r="7"/>
<circle cx="566" cy="528" r="7"/><circle cx="566" cy="542" r="7"/><circle cx="566" cy="556" r="7"/>
<circle cx="606" cy="528" r="7"/><circle cx="606" cy="542" r="7"/><circle cx="606" cy="556" r="7"/>
<circle cx="645" cy="528" r="7"/><circle cx="645" cy="542" r="7"/><circle cx="645" cy="556" r="7"/>
<circle cx="684" cy="528" r="7"/><circle cx="684" cy="542" r="7"/><circle cx="684" cy="556" r="7"/>
<circle cx="566" cy="612" r="7"/><circle cx="566" cy="625" r="7"/><circle cx="566" cy="638" r="7"/>
<circle cx="606" cy="612" r="7"/><circle cx="606" cy="625" r="7"/><circle cx="606" cy="638" r="7"/>
<circle cx="645" cy="612" r="7"/><circle cx="645" cy="625" r="7"/><circle cx="645" cy="638" r="7"/>
<circle cx="566" cy="697" r="7"/><circle cx="566" cy="710" r="7"/><circle cx="566" cy="723" r="7"/>
<circle cx="606" cy="697" r="7"/><circle cx="606" cy="710" r="7"/><circle cx="606" cy="723" r="7"/>
<circle cx="645" cy="697" r="7"/><circle cx="645" cy="710" r="7"/><circle cx="645" cy="723" r="7"/>
<circle cx="684" cy="697" r="7"/><circle cx="684" cy="710" r="7"/><circle cx="684" cy="723" r="7"/>
<circle cx="723" cy="697" r="7"/><circle cx="723" cy="710" r="7"/><circle cx="723" cy="723" r="7"/>
</g>
<g fill="#c2948a">
<circle cx="684" cy="483" r="7"/><circle cx="684" cy="497" r="7"/><circle cx="684" cy="510" r="7"/>
<circle cx="723" cy="483" r="7"/><circle cx="723" cy="497" r="7"/><circle cx="723" cy="510" r="7"/>
<circle cx="764" cy="483" r="7"/><circle cx="764" cy="497" r="7"/><circle cx="764" cy="510" r="7"/>
<circle cx="723" cy="528" r="7"/><circle cx="723" cy="542" r="7"/><circle cx="723" cy="556" r="7"/>
<circle cx="764" cy="528" r="7"/><circle cx="764" cy="542" r="7"/><circle cx="764" cy="556" r="7"/>
<circle cx="684" cy="612" r="7"/><circle cx="684" cy="625" r="7"/><circle cx="684" cy="638" r="7"/>
<circle cx="723" cy="612" r="7"/><circle cx="723" cy="625" r="7"/><circle cx="723" cy="638" r="7"/>
<circle cx="764" cy="612" r="7"/><circle cx="764" cy="625" r="7"/><circle cx="764" cy="638" r="7"/>
<circle cx="764" cy="697" r="7"/><circle cx="764" cy="710" r="7"/><circle cx="764" cy="723" r="7"/>
</g>
<g fill="#eee" opacity="0.6">
<circle cx="686" cy="480" r="2.5"/><circle cx="725" cy="480" r="2.5"/><circle cx="766" cy="480" r="3"/><circle cx="686" cy="614" r="3"/><circle cx="726" cy="612" r="3"/><circle cx="766" cy="639" r="3"/>
</g>
<g stroke="#d8b040" stroke-width="1">
<line x1="560" y1="481" x2="554" y2="479"/><line x1="600" y1="481" x2="594" y2="479"/><line x1="639" y1="481" x2="633" y2="479"/><line x1="678" y1="481" x2="672" y2="479"/><line x1="717" y1="481" x2="711" y2="479"/><line x1="758" y1="481" x2="752" y2="479"/>
<line x1="560" y1="526" x2="554" y2="524"/><line x1="600" y1="526" x2="594" y2="524"/><line x1="639" y1="526" x2="633" y2="524"/><line x1="678" y1="526" x2="672" y2="524"/>
<line x1="560" y1="695" x2="554" y2="693"/><line x1="600" y1="695" x2="594" y2="693"/><line x1="639" y1="695" x2="633" y2="693"/><line x1="678" y1="695" x2="672" y2="693"/><line x1="717" y1="695" x2="711" y2="693"/><line x1="758" y1="695" x2="752" y2="693"/>
</g>
</svg>
</body></html>
